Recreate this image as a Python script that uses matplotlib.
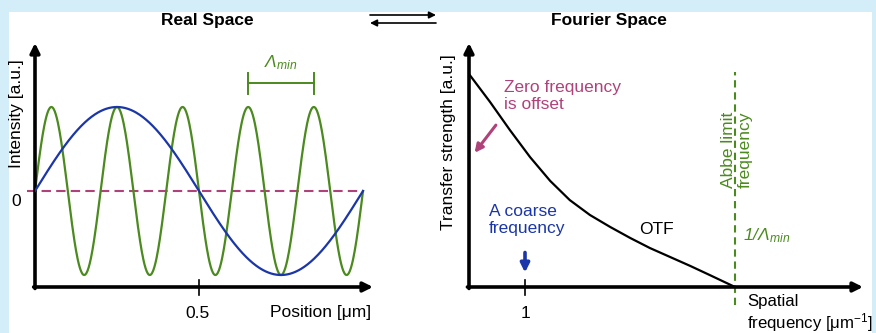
import numpy as np
import matplotlib
matplotlib.use("Agg")
import matplotlib.pyplot as plt
from matplotlib.patches import Rectangle
from matplotlib.text import Annotation

# ---- data ----
wave_periods_um = [1.0, 0.2]          # coarse (blue), fine (green)
position_ticks = [0.5]
lambda_bracket = [0.65, 0.85]         # two neighbouring peaks of the fine wave

otf_freq = [0.0, 0.375, 0.73, 1.09, 1.45, 1.80, 2.16, 2.52, 2.88, 3.23,
            3.59, 3.95, 4.30, 4.75]
otf_strength = [1.0, 0.869, 0.737, 0.610, 0.498, 0.408, 0.338, 0.282, 0.230, 0.183,
                0.141, 0.099, 0.056, 0.0]
freq_ticks = [1]
abbe_freq = 4.75
coarse_freq = 1

# ---- style ----
plt.rcParams['font.family'] = ['Liberation Sans', 'DejaVu Sans']
plt.rcParams['mathtext.fontset'] = 'custom'
plt.rcParams['mathtext.rm'] = 'Liberation Sans:italic'
plt.rcParams['mathtext.it'] = 'Liberation Sans:italic'
plt.rcParams['mathtext.sf'] = 'Liberation Sans'
FS = 12.5
GREEN = '#4b8a1e'
BLUE = '#1b36a8'
PINK = '#b0427a'
BG = '#d4eef9'
AXLW = 2.6

W, H = 876, 333


def fxy(px, py):
    return px / W, 1 - py / H


fig = plt.figure(figsize=(W / 100, H / 100), dpi=100)
fig.patch.set_facecolor(BG)
fig.patches.append(Rectangle(fxy(9, 333), 863 / W, 321 / H, transform=fig.transFigure,
                             facecolor='white', edgecolor='none', zorder=-5))


def bare_axes(rect):
    ax = fig.add_axes(rect)
    ax.set_facecolor('none')
    for s in ax.spines.values():
        s.set_visible(False)
    ax.set_xticks([])
    ax.set_yticks([])
    arrow = dict(arrowstyle='-|>', lw=AXLW, color='black', mutation_scale=14,
                 shrinkA=0, shrinkB=0)
    ax.annotate('', xy=(1, 0), xytext=(-0.004, 0), xycoords='axes fraction', arrowprops=arrow)
    ax.annotate('', xy=(0, 1), xytext=(0, -0.006), xycoords='axes fraction', arrowprops=arrow)
    return ax


# ---- real space ----
ax1 = bare_axes([35 / W, 46 / H, 338 / W, 244 / H])
ax1.set_xlim(0, 338 / 328)
ax1.set_ylim(-96 / 84, 148 / 84)

x = np.linspace(0, 1, 600)
ax1.plot(x, np.sin(2 * np.pi * x / wave_periods_um[1]), color=GREEN, lw=1.6, zorder=2)
ax1.plot(x, np.sin(2 * np.pi * x / wave_periods_um[0]), color=BLUE, lw=1.6, zorder=3)
ax1.plot([-0.024, 1.0], [0, 0], color=PINK, lw=1.5, ls=(0, (4.5, 2.5)), clip_on=False, zorder=1)

for t in position_ticks:
    ax1.plot([t, t], [-1.06, -1.24], color='black', lw=1.2, clip_on=False)
    fig.text(*fxy(198, 313), str(t), fontsize=FS, ha='center', va='center')

ax1.plot(lambda_bracket, [1.286, 1.286], color=GREEN, lw=1.4)
for b in lambda_bracket:
    ax1.plot([b, b], [1.155, 1.405], color=GREEN, lw=1.4)
ax1.text(np.mean(lambda_bracket), 1.53, r'$\Lambda_{min}$', color=GREEN, fontsize=FS,
         ha='center', va='center')

fig.text(*fxy(207, 21), 'Real Space', fontsize=FS, fontweight='bold', ha='center', va='center')
fig.text(*fxy(17, 114), 'Intensity [a.u.]', fontsize=FS, rotation=90, ha='center', va='center')
fig.text(*fxy(16, 202), '0', fontsize=FS, ha='center', va='center')
fig.text(*fxy(321, 313), 'Position [μm]', fontsize=FS, ha='center', va='center')

# ---- fourier space ----
ax2 = bare_axes([469 / W, 46 / H, 394 / W, 244 / H])
ax2.set_xlim(0, 394 / 56)
ax2.set_ylim(0, 244 / 213)

ax2.plot(otf_freq, otf_strength, color='black', lw=1.6, zorder=3,
         solid_joinstyle='round')
ax2.plot([abbe_freq, abbe_freq], [-0.085, 1.01], color=GREEN, lw=1.5,
         ls=(0, (3.5, 2.3)), clip_on=False, zorder=2)

for t in freq_ticks:
    ax2.plot([t, t], [0.033, -0.038], color='black', lw=1.2, clip_on=False)
    fig.text(*fxy(525, 313), str(t), fontsize=FS, ha='center', va='center')

ax2.annotate('', xy=(coarse_freq, 0.068), xytext=(coarse_freq, 0.162),
             arrowprops=dict(arrowstyle='-|>', lw=2.6, color=BLUE, mutation_scale=13,
                             shrinkA=0, shrinkB=0))
ax2.annotate('', xy=(0.10, 0.63), xytext=(0.48, 0.76),
             arrowprops=dict(arrowstyle='-|>', lw=2.2, color=PINK, mutation_scale=12,
                             shrinkA=0, shrinkB=0))

fig.text(*fxy(609, 21), 'Fourier Space', fontsize=FS, fontweight='bold', ha='center', va='center')
fig.text(*fxy(449, 142), 'Transfer strength [a.u.]', fontsize=FS, rotation=90,
         ha='center', va='center')
fig.text(*fxy(504, 96), 'Zero frequency\nis offset', fontsize=FS, color=PINK,
         ha='left', va='center', linespacing=1.15)
fig.text(*fxy(489, 220), 'A coarse\nfrequency', fontsize=FS, color=BLUE,
         ha='left', va='center', linespacing=1.15)
fig.text(*fxy(656, 230), 'OTF', fontsize=FS, ha='center', va='center')
fig.text(*fxy(737, 150), 'Abbe limit\nfrequency', fontsize=FS, color=GREEN, rotation=90,
         ha='center', va='center', linespacing=1.15)
fig.text(*fxy(743, 236), r'$1/\Lambda_{min}$', fontsize=FS, color=GREEN,
         ha='left', va='center')
fig.text(*fxy(747, 314), 'Spatial\nfrequency [μm$^{\\mathsf{-1}}$]', fontsize=12.1,
         ha='left', va='center', linespacing=1.1)

# ---- transform arrows between the panels ----
thin = dict(arrowstyle='-|>', lw=1.2, color='black', mutation_scale=10, shrinkA=0, shrinkB=0)
fig.add_artist(Annotation('', xy=fxy(436, 15), xytext=fxy(370, 15),
                          xycoords='figure fraction', arrowprops=thin))
fig.add_artist(Annotation('', xy=fxy(370, 23), xytext=fxy(436, 23),
                          xycoords='figure fraction', arrowprops=thin))

fig.savefig('out.png', dpi=100, facecolor=BG)
